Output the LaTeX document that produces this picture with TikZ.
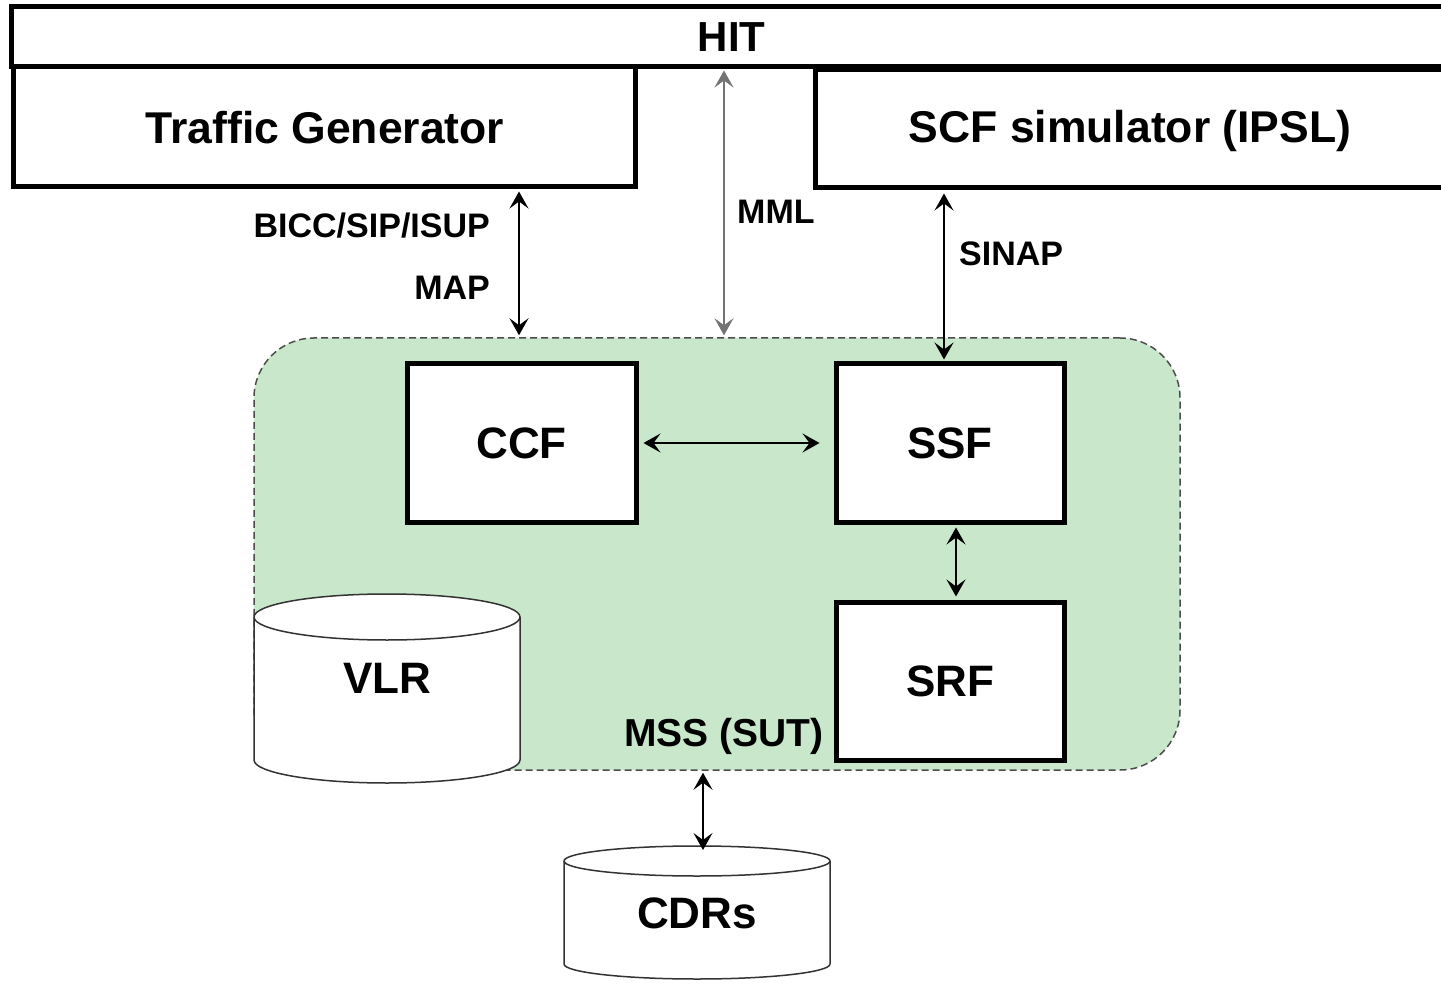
\documentclass[tikz,border=0pt]{standalone}
\usepackage{fontspec}
\setmainfont{Liberation Sans}
\usetikzlibrary{arrows.meta,calc}
\definecolor{mssgreen}{RGB}{201,232,203}
\begin{document}
\begin{tikzpicture}[x=1pt,y=-1pt,
  thickbox/.style={draw=black,line width=5pt,fill=white,inner sep=0pt,align=center},
  bigtxt/.style={font=\fontsize{44.5}{48}\selectfont\bfseries},
  boxtxt/.style={font=\fontsize{44}{48}\selectfont\bfseries},
  lbl/.style={font=\fontsize{34}{38}\selectfont\bfseries,inner sep=0pt},
  arr/.style={{Stealth[length=17pt,width=19pt,inset=7pt]}-{Stealth[length=17pt,width=19pt,inset=7pt]},line width=1.8pt},
  cyl/.style={draw=black!80,line width=1.5pt,fill=white},
  container/.style={draw=black!70,dash pattern=on 7pt off 4pt,line width=1.5pt,fill=mssgreen,rounded corners=60pt,inner sep=0pt}
]
\clip (0,0) rectangle (1441,984);
\fill[white] (0,0) rectangle (1441,984);

% MSS container
\node[container,minimum width=926pt,minimum height=432pt] (mss) at (717,554) {};

% top boxes
\node[thickbox,minimum width=1441pt,minimum height=60pt,font=\fontsize{42}{46}\selectfont\bfseries] (hit) at (731.5,37) {HIT};
\node[thickbox,minimum width=622pt,minimum height=120pt] (tg) at (324,127) {};
\node[bigtxt,inner sep=0pt] (tgtxt) at (325,128) {Traffic Generator};
\node[thickbox,minimum width=631pt,minimum height=118pt] (scf) at (1130.5,129) {};
\node[bigtxt,inner sep=0pt] (scftxt) at (1130,131) {SCF simulator (IPSL)};

% inner boxes
\node[thickbox,boxtxt,minimum width=229pt,minimum height=158pt] (ccf) at (521.5,443) {CCF};
\node[thickbox,boxtxt,minimum width=228pt,minimum height=158pt] (ssf) at (950,443) {SSF};
\node[thickbox,boxtxt,minimum width=228pt,minimum height=158pt] (srf) at (950,681) {SRF};

% VLR cylinder
\path[cyl] (254,617) -- (254,760) arc[start angle=180,end angle=0,x radius=133,y radius=23]
  -- (520,617) arc[start angle=0,end angle=-180,x radius=133,y radius=23] -- cycle;
\draw[cyl,fill=none] (254,617) arc[start angle=180,end angle=0,x radius=133,y radius=23];
\node[boxtxt] (vlr) at (387,678) {VLR};

% CDRs cylinder
\path[cyl] (564,861) -- (564,964) arc[start angle=180,end angle=0,x radius=133,y radius=15]
  -- (830,861) arc[start angle=0,end angle=-180,x radius=133,y radius=15] -- cycle;
\draw[cyl,fill=none] (564,861) arc[start angle=180,end angle=0,x radius=133,y radius=15];
\node[boxtxt] (cdr) at (697,913) {CDRs};
\coordinate (cdrtop) at (703,850);

% labels
\node[font=\fontsize{39}{42}\selectfont\bfseries,inner sep=0pt,anchor=east] (msslbl) at (824,736) {MSS (SUT)};
\node[lbl,anchor=east] (bicc) at (490,226) {BICC/SIP/ISUP};
\node[lbl,anchor=east] (map) at (490,288) {MAP};
\node[lbl,anchor=west] (mml) at (737,212) {MML};
\node[lbl,anchor=west] (sinap) at (959,254) {SINAP};

% connectors
\coordinate (tgx) at (519,0);
\coordinate (mmlx) at (724,0);
\coordinate (sinx) at (944,0);
\coordinate (ssrx) at (956,0);
\draw[arr,shorten <=2pt,shorten >=2pt] (tg.south -| tgx) -- (mss.north -| tgx);
\draw[arr,draw=black!55,shorten <=1pt,shorten >=2pt] (hit.south -| mmlx) -- (mss.north -| mmlx);
\draw[arr,shorten <=3pt,shorten >=2pt] (scf.south -| sinx) -- (ssf.north -| sinx);
\draw[arr,shorten <=5pt,shorten >=14pt] (ccf.east) -- (ssf.west);
\draw[arr,shorten <=3pt,shorten >=3pt] (ssf.south -| ssrx) -- (srf.north -| ssrx);
\draw[arr,shorten <=2pt] (mss.south -| cdrtop) -- (cdrtop);
\end{tikzpicture}
\end{document}
